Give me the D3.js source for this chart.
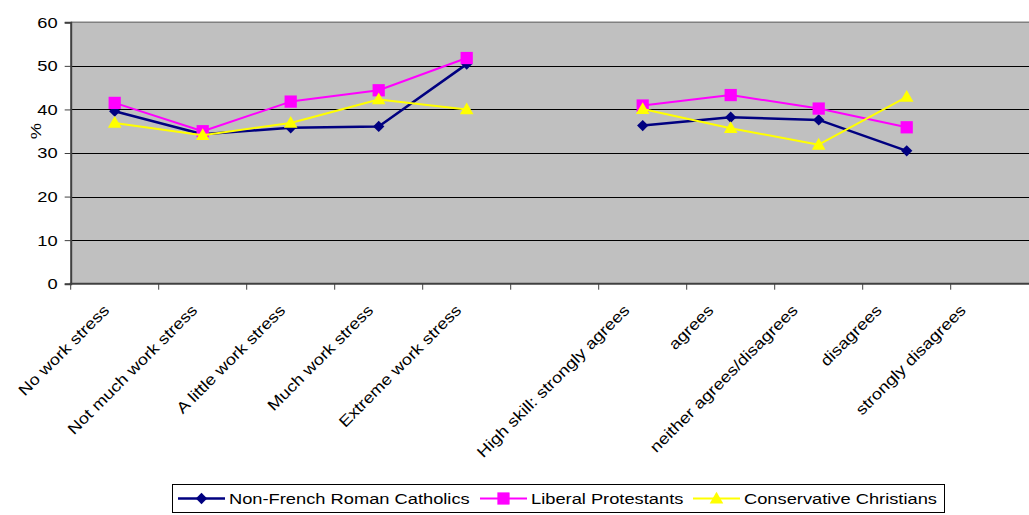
<!DOCTYPE html>
<html>
<head>
<meta charset="utf-8">
<script src="https://cdn.jsdelivr.net/npm/d3@7"></script>
<style>
  html, body { margin: 0; padding: 0; background: #fff; }
  svg { display: block; font-family: Arial, "Liberation Sans", sans-serif; }
</style>
</head>
<body>
<svg id="chart" width="1029" height="515"></svg>
<script>
// ---- data ----
const categories = [
  "No work stress", "Not much work stress", "A little work stress", "Much work stress",
  "Extreme work stress", " ", "High skill: strongly agrees", "agrees",
  "neither agrees/disagrees", "disagrees", "strongly disagrees"
];
const catholics   = [39.6, 34.3, 35.8, 36.1, 50.4, null, 36.3, 38.2, 37.6, 30.5, null];
const liberals    = [41.5, 35.0, 41.8, 44.4, 51.8, null, 40.9, 43.3, 40.2, 35.9, null];
const conservatives = [36.9, 34.1, 36.9, 42.3, 40.0, null, 40.1, 35.7, 31.9, 42.9, null];
const seriesNames = ["Non-French Roman Catholics", "Liberal Protestants", "Conservative Christians"];
const yTicks = [0, 10, 20, 30, 40, 50, 60];
const yLabel = "%";

// ---- layout ----
const svg = d3.select("#chart");
const plotLeft = 70.7, plotTop = 22.3, plotBottom = 283.7;
const step = 88;
const plotRight = plotLeft + step * categories.length;
const sx = 1.18; // horizontal text stretch
const fs = 15.5;

const x = d3.scaleBand().domain(categories).range([plotLeft, plotRight]).padding(0);
const y = d3.scaleLinear().domain([0, 60]).range([plotBottom, plotTop]);

// plot background
svg.append("rect").attr("x", plotLeft).attr("y", plotTop)
  .attr("width", plotRight - plotLeft).attr("height", plotBottom - plotTop).attr("fill", "#c0c0c0");

// gridlines
svg.append("g").selectAll("line").data(yTicks.filter(t => t > 0 && t < 60)).join("line")
  .attr("x1", plotLeft).attr("x2", plotRight)
  .attr("y1", d => Math.round(y(d)) + 0.5).attr("y2", d => Math.round(y(d)) + 0.5)
  .attr("stroke", "#000").attr("stroke-width", 1);
// top border
svg.append("line").attr("x1", plotLeft).attr("x2", plotRight).attr("y1", y(60)).attr("y2", y(60))
  .attr("stroke", "#808080").attr("stroke-width", 1.5);

// y axis
const yAxis = d3.axisLeft(y).tickValues(yTicks).tickSize(6).tickPadding(7);
const gy = svg.append("g").attr("transform", `translate(${plotLeft},0)`).call(yAxis);
gy.select(".domain").attr("stroke", "#404040").attr("stroke-width", 2);
gy.selectAll(".tick line").attr("stroke", "#404040");
gy.selectAll(".tick text")
  .attr("font-size", fs).attr("fill", "#000")
  .attr("font-family", "Arial, 'Liberation Sans', sans-serif")
  .attr("transform", `scale(${sx},1)`).attr("x", (-13) / sx);

// y axis title
svg.append("text").attr("transform", `translate(41,131) rotate(-90) scale(${sx},1)`)
  .attr("text-anchor", "middle").attr("font-size", fs).text(yLabel);

// x axis
const xAxis = d3.axisBottom(x).tickSize(0).tickPadding(0);
const gx = svg.append("g").attr("transform", `translate(0,${plotBottom})`).call(xAxis);
gx.select(".domain").remove();
svg.append("line").attr("x1", plotLeft - 1).attr("x2", plotRight).attr("y1", plotBottom).attr("y2", plotBottom)
  .attr("stroke", "#404040").attr("stroke-width", 2);
// boundary ticks
svg.append("g").selectAll("line").data(d3.range(categories.length + 1)).join("line")
  .attr("x1", i => plotLeft + x.step() * i).attr("x2", i => plotLeft + x.step() * i)
  .attr("y1", plotBottom).attr("y2", plotBottom + 6)
  .attr("stroke", "#404040").attr("stroke-width", 1);
gx.selectAll(".tick text")
  .attr("font-size", fs).attr("fill", "#000")
  .attr("font-family", "Arial, 'Liberation Sans', sans-serif")
  .attr("text-anchor", "end").attr("dy", null).attr("y", 0)
  .attr("transform", (d, i) => {
    const shift = i > 4 ? -(i - 4) * 3.9 : 0;
    return `translate(${-4.5 + shift},27.5) rotate(-45) scale(${sx},1)`;
  });

// series
const seriesData = [
  { name: seriesNames[0], values: catholics, color: "#000080", width: 2.5, symbol: "diamond" },
  { name: seriesNames[1], values: liberals, color: "#ff00ff", width: 2, symbol: "square" },
  { name: seriesNames[2], values: conservatives, color: "#ffff00", width: 2, symbol: "triangle" }
];
const cx = (c) => x(c) + x.bandwidth() / 2;
const line = d3.line()
  .defined(d => d.v != null)
  .x(d => cx(d.c)).y(d => y(d.v));

function symbolPath(kind) {
  if (kind === "diamond") return d3.symbol(d3.symbolSquare, 64)();
  if (kind === "square") return d3.symbol(d3.symbolSquare, 150)();
  return d3.symbol(d3.symbolTriangle, 80)();
}
function symbolTransform(kind) {
  return kind === "diamond" ? " rotate(45)" : (kind === "triangle" ? " translate(0,1)" : "");
}

seriesData.forEach(s => {
  const pts = categories.map((c, i) => ({ c, v: s.values[i] }));
  const g = svg.append("g");
  g.append("path").attr("d", line(pts)).attr("fill", "none")
    .attr("stroke", s.color).attr("stroke-width", s.width).attr("stroke-linejoin", "round");
  g.selectAll("path.m").data(pts.filter(p => p.v != null)).join("path").attr("class", "m")
    .attr("d", symbolPath(s.symbol))
    .attr("transform", p => `translate(${cx(p.c)},${y(p.v)})${symbolTransform(s.symbol)}`)
    .attr("fill", s.color);
});

// legend
const lg = svg.append("g");
lg.append("rect").attr("x", 172.5).attr("y", 484.5).attr("width", 772).attr("height", 28)
  .attr("fill", "#fff").attr("stroke", "#000").attr("stroke-width", 1);
const legendX = [178, 480, 693];
const ly = 498.5;
seriesData.forEach((s, i) => {
  const x0 = legendX[i];
  lg.append("line").attr("x1", x0).attr("x2", x0 + 47).attr("y1", ly).attr("y2", ly)
    .attr("stroke", s.color).attr("stroke-width", s.width);
  lg.append("path").attr("d", symbolPath(s.symbol))
    .attr("transform", `translate(${x0 + 23.5},${ly})${symbolTransform(s.symbol)}`)
    .attr("fill", s.color);
  lg.append("text").attr("transform", `translate(${x0 + 51},${ly + 5.5}) scale(${sx},1)`)
    .attr("font-size", fs).attr("fill", "#000").text(s.name);
});
</script>
</body>
</html>
